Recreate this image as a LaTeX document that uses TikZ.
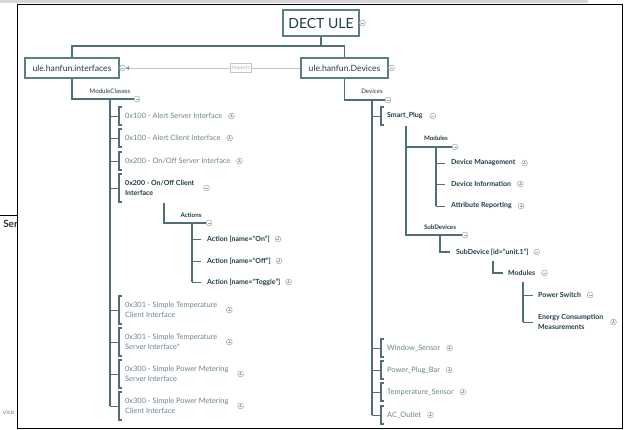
\documentclass[tikz,border=0pt]{standalone}
\usepackage{fontspec}
\setmainfont{Lato}
\usetikzlibrary{arrows.meta}
\definecolor{linec}{HTML}{4F6F78}
\definecolor{boxline}{HTML}{5E7E87}
\definecolor{darkt}{HTML}{1F3C46}
\definecolor{softt}{HTML}{6B858D}
\definecolor{markc}{HTML}{9FAEB2}
\definecolor{impc}{HTML}{BCC7CA}
\definecolor{bandc}{HTML}{D6D6D6}
% horizontal link from a trunk to an item, closed by a square bracket
\newcommand\brkt[3]{%
  \draw[twig] (#1 |- #2.west) -- ([xshift=-6pt]#2.west);
  \draw[brk] ([xshift=-3pt,yshift=#3]#2.west) -- ([xshift=-6pt,yshift=#3]#2.west)
     -- ([xshift=-6pt,yshift=-#3]#2.west) -- ([xshift=-3pt,yshift=-#3]#2.west);}
% plain tick from a trunk to an item
\newcommand\tick[3]{\draw[twig] (#1 |- #2.west) -- ([xshift=-#3]#2.west);}
% expand / collapse knob after an item
\newcommand\knob[3]{\node[#2] (#1m) at ([xshift=#3]#1.east) {};}
\begin{document}
\begin{tikzpicture}[x=1pt,y=-1pt,
  conn/.style={draw=linec, line width=1.1pt},
  trunk/.style={draw=linec, line width=1.7pt},
  twig/.style={draw=linec, line width=0.9pt},
  brk/.style={draw=linec, line width=1.1pt},
  box/.style={draw=boxline, line width=1.1pt, fill=white, text=darkt, inner sep=0pt,
    font=\fontsize{8.6}{10}\selectfont},
  soft/.style={anchor=west, inner sep=0pt, text=softt, align=left,
    font=\fontsize{7.4}{10}\selectfont},
  hard/.style={anchor=west, inner sep=0pt, text=darkt, align=left,
    font=\bfseries\fontsize{7}{10}\selectfont},
  lbl/.style={inner sep=0pt, text=darkt, font=\fontsize{6.2}{7}\selectfont},
  blbl/.style={inner sep=0pt, text=darkt, font=\bfseries\fontsize{6.2}{7}\selectfont},
  mk/.style={circle, draw=markc, line width=0.55pt, minimum size=5.8pt, inner sep=0pt, fill=white},
  mminus/.style={mk, path picture={\draw[markc,line width=0.55pt]
    ([xshift=-1.5pt]path picture bounding box.center) -- ([xshift=1.5pt]path picture bounding box.center);}},
  mplus/.style={mk, path picture={\draw[markc,line width=0.55pt]
    ([xshift=-1.5pt]path picture bounding box.center) -- ([xshift=1.5pt]path picture bounding box.center)
    ([yshift=-1.5pt]path picture bounding box.center) -- ([yshift=1.5pt]path picture bounding box.center);}},
]
\useasboundingbox (0,0) rectangle (625,430);
\fill[white] (0,0) rectangle (625,430);
\fill[bandc] (0,0) rectangle (588,2.6);

% window behind, on the left
\node[anchor=base east, inner sep=0pt, text=black!80, font=\bfseries\fontsize{10}{12}\selectfont] (ser) at (18,228) {Ser};
\node[anchor=base east, inner sep=0pt, text=black!50, font=\fontsize{6.5}{8}\selectfont] (vic) at (14.5,415) {vice};
\draw[black, line width=1.3pt] (0,215.5) -- (17,215.5);

% frame
\fill[white] (17.5,4.5) rectangle (622.5,428.5);
\draw[black, line width=1.8pt] (17.5,4.5) rectangle (622.5,428.5);

% top level
\node[box, minimum width=76pt, minimum height=26pt, font=\fontsize{14}{16}\selectfont] (root) at (321,23) {DECT ULE};
\node[box, minimum width=94pt, minimum height=20pt] (ifc) at (72,68) {ule.hanfun.interfaces};
\node[box, minimum width=87pt, minimum height=20pt] (dev) at (344.5,68) {ule.hanfun.Devices};
\coordinate (bar) at (0,46);
\draw[conn] (root.south) -- (root.south |- bar);
\draw[conn] (ifc.north) |- (dev.north |- bar) -- (dev.north);
\node[mminus] (rootm) at ([xshift=3pt]root.east) {};
\node[mminus] (devm) at ([xshift=3pt]dev.east) {};
\node[mminus] (ifcm) at ([xshift=3pt]ifc.east) {};
\draw[draw=impc, line width=0.8pt, -{Triangle[length=3.5pt,width=4pt,color=linec!70]}]
  (dev.west) -- node[pos=0.34, draw=impc, fill=white, text=impc!90!black, inner sep=1.5pt,
  minimum height=9pt, font=\fontsize{5.2}{6}\selectfont] (imp) {Imports} (ifcm.east);

% ---------- module classes ----------
\node[mminus] (mcm) at (137,99) {};
\draw[conn] (ifc.south) |- (mcm.west);
\node[lbl] (mcl) at (110,91) {ModuleClasses};
\coordinate (mct) at (110,99);

\node[soft] (i1) at (125,116) {0x100 - Alert Server Interface};
\node[soft] (i2) at (125,138) {0x100 - Alert Client Interface};
\node[soft] (i3) at (125,161) {0x200 - On/Off Server Interface};
\node[hard] (i4) at (125,188) {0x200 - On/Off Client\\Interface};
\node[soft] (i5) at (125,310) {0x301 - Simple Temperature\\Client Interface};
\node[soft] (i6) at (125,342) {0x301 - Simple Temperature\\Server Interface*};
\node[soft] (i7) at (125,374) {0x300 - Simple Power Metering\\Server Interface};
\node[soft] (i8) at (125,406) {0x300 - Simple Power Metering\\Client Interface};
\draw[trunk] (mct) -- (mct |- i8.west);
\brkt{mct}{i1}{9pt}\brkt{mct}{i2}{9pt}\brkt{mct}{i3}{9pt}\brkt{mct}{i4}{14pt}
\brkt{mct}{i5}{14pt}\brkt{mct}{i6}{14pt}\brkt{mct}{i7}{14pt}\brkt{mct}{i8}{14pt}
\knob{i1}{mplus}{9pt}\knob{i2}{mplus}{9pt}\knob{i3}{mplus}{9pt}\knob{i4}{mminus}{12pt}
\knob{i5}{mplus}{12pt}\knob{i6}{mplus}{12pt}\knob{i7}{mplus}{12pt}\knob{i8}{mplus}{12pt}

% actions of the on/off client
\coordinate (act0) at (164,203);
\node[mminus] (acm) at (209,223) {};
\draw[conn] (act0) |- (acm.west);
\node[blbl] (acl) at (191,215) {Actions};
\coordinate (act) at (192,223);
\node[hard] (a1) at (207,239) {Action [name=“On”]};
\node[hard] (a2) at (207,261) {Action [name=“Off”]};
\node[hard] (a3) at (207,282) {Action [name=“Toggle”]};
\draw[conn] (act) -- (act |- a3.west);
\tick{act}{a1}{6pt}\tick{act}{a2}{6pt}\tick{act}{a3}{6pt}
\knob{a1}{mplus}{8pt}\knob{a2}{mplus}{8pt}\knob{a3}{mplus}{8pt}

% ---------- devices ----------
\node[mminus] (dvm) at (388,100) {};
\draw[conn] (dev.south) |- (dvm.west);
\node[lbl] (dvl) at (372,91) {Devices};
\coordinate (dvt) at (372,100);

\node[hard] (p0) at (387,116) {Smart\_Plug};
\node[soft] (p1) at (387,348) {Window\_Sensor};
\node[soft] (p2) at (387,370) {Power\_Plug\_Bar};
\node[soft] (p3) at (387,392) {Temperature\_Sensor};
\node[soft] (p4) at (387,415) {AC\_Outlet};
\draw[trunk] (dvt) -- (dvt |- p4.west);
\brkt{dvt}{p0}{9pt}\brkt{dvt}{p1}{9pt}\brkt{dvt}{p2}{9pt}\brkt{dvt}{p3}{9pt}\brkt{dvt}{p4}{9pt}
\knob{p0}{mminus}{10pt}\knob{p1}{mplus}{9pt}\knob{p2}{mplus}{9pt}\knob{p3}{mplus}{9pt}\knob{p4}{mplus}{9pt}

% smart plug: modules and sub-devices
\coordinate (spt) at (406,126);
\node[mminus] (spmm) at (455,147) {};
\node[mminus] (sdvm) at (465,235) {};
\draw[draw=linec, line width=1.5pt] (spt) |- (spmm.west);
\draw[draw=linec, line width=1.5pt] (spt) |- (sdvm.west);
\node[blbl] (spml) at (436,138) {Modules};
\node[blbl] (sdvl) at (440,227) {SubDevices};

\coordinate (mdt) at (436,147);
\node[hard] (d1) at (451,163) {Device Management};
\node[hard] (d2) at (451,184) {Device Information};
\node[hard] (d3) at (451,206) {Attribute Reporting};
\draw[conn] (mdt) -- (mdt |- d3.west);
\tick{mdt}{d1}{6pt}\tick{mdt}{d2}{6pt}\tick{mdt}{d3}{6pt}
\knob{d1}{mplus}{9pt}\knob{d2}{mplus}{9pt}\knob{d3}{mplus}{9pt}

\coordinate (sdt) at (440,235);
\node[hard] (sd) at (456,252) {SubDevice [id=“unit.1”]};
\draw[conn] (sdt) |- ([xshift=-6pt]sd.west);
\knob{sd}{mminus}{8pt}

\coordinate (sdc) at (493,261);
\node[hard] (sm) at (508,273) {Modules};
\draw[conn] (sdc) |- ([xshift=-5pt]sm.west);
\knob{sm}{mminus}{9pt}

\coordinate (smt) at (523,282);
\node[hard] (e1) at (538,295) {Power Switch};
\node[hard] (e2) at (538,322) {Energy Consumption\\Measurements};
\draw[conn] (smt) -- (smt |- e2.west);
\tick{smt}{e1}{5pt}\tick{smt}{e2}{5pt}
\knob{e1}{mminus}{9pt}\knob{e2}{mplus}{10pt}
\end{tikzpicture}
\end{document}
